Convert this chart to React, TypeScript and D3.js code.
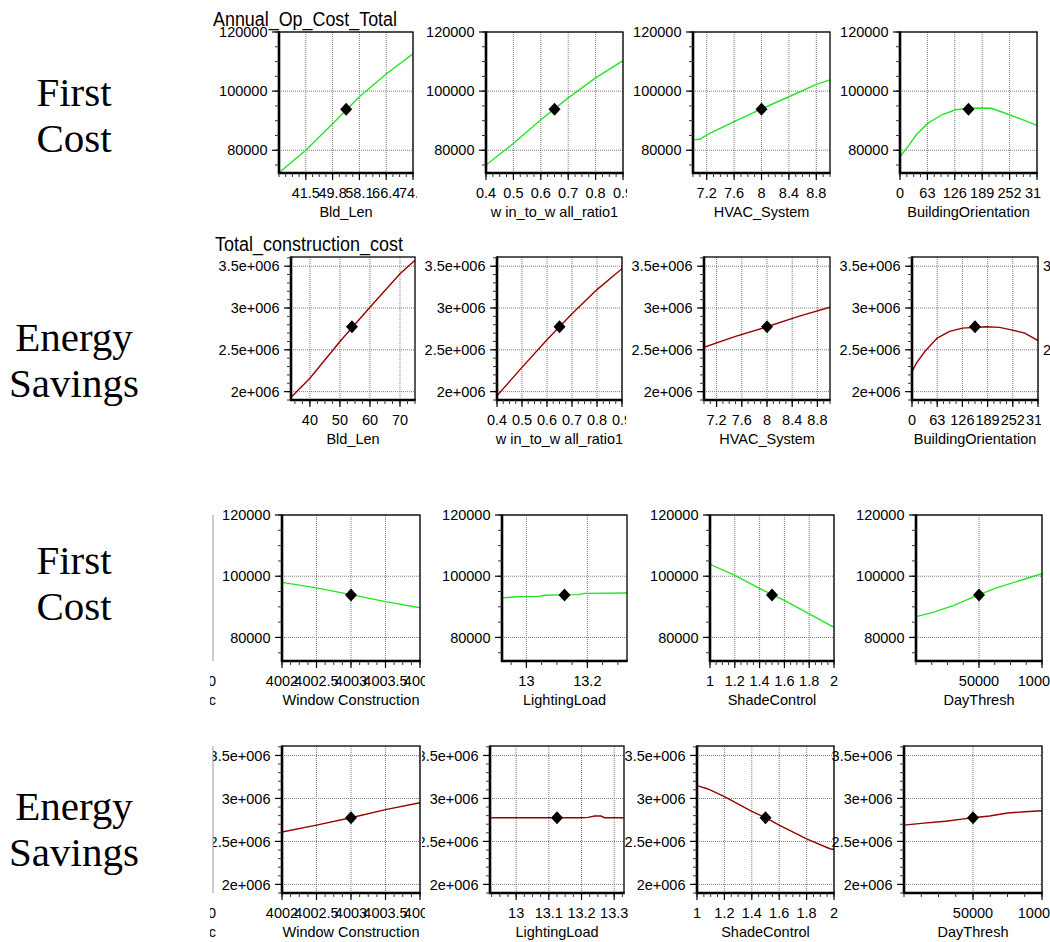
import * as d3 from "d3";
import { useEffect, useRef } from "react";

// y axes
const opDomain: [number, number] = [72300, 120000];
const opTicks = [80000, 100000, 120000];
const opTickLabels = ["80000", "100000", "120000"];
const tcDomain: [number, number] = [1900000, 3610000];
const tcTicks = [2000000, 2500000, 3000000, 3500000];
const tcTickLabels = ["2e+006", "2.5e+006", "3e+006", "3.5e+006"];
const baseOp = 93900;
const baseTc = 2776000;

// Annual_Op_Cost_Total, top block
const bldLenA = [33.2, 41.5, 49.8, 58.1, 66.4, 74.7];
const opBldLen = [72400, 80000, 89000, 98100, 105800, 112600];
const wwrA = [0.4, 0.5, 0.6, 0.7, 0.8, 0.9];
const opWwr = [75000, 82300, 90300, 97700, 104500, 110300];
const hvacA = [7.0, 7.1, 7.2, 7.6, 8.0, 8.4, 8.8, 9.0];
const opHvac = [83500, 83700, 85200, 89700, 94000, 98100, 102300, 103800];
const orientA = [0, 19, 38, 63, 96, 128, 160, 189, 210, 252, 283, 315];
const opOrient = [77800, 81400, 85300, 89000, 92000, 93700, 94200, 94300, 94200, 92000, 90300, 88400];

// Total_construction_cost, top block
const bldLenB = [33.9, 40, 50, 60, 70, 75];
const tcBldLen = [1940000, 2160000, 2600000, 3010000, 3410000, 3570000];
const wwrB = [0.4, 0.5, 0.6, 0.7, 0.8, 0.9];
const tcWwr = [1950000, 2290000, 2620000, 2930000, 3220000, 3470000];
const hvacB = [7.0, 7.5, 8.0, 8.5, 9.0];
const tcHvac = [2530000, 2660000, 2776000, 2900000, 3010000];
const orientB = [0, 11, 32, 63, 94, 126, 186, 219, 251, 282, 315];
const tcOrient = [2240000, 2340000, 2480000, 2640000, 2720000, 2760000, 2776000, 2768000, 2736000, 2700000, 2610000];

// Annual_Op_Cost_Total, bottom block
const winA = [4002, 4002.5, 4003, 4003.5, 4004];
const opWin = [98000, 96200, 94000, 91700, 89700];
const lightA = [12.92, 12.97, 13.04, 13.06, 13.12, 13.17, 13.19, 13.33];
const opLight = [92900, 93300, 93400, 93800, 93900, 94000, 94400, 94500];
const shadeA = [1, 1.2, 1.4, 1.5, 1.6, 1.8, 2];
const opShade = [103900, 100300, 96000, 94000, 92100, 87700, 83300];
const dayA = [0, 13500, 29500, 50000, 64000, 82500, 100000];
const opDay = [86800, 88200, 90400, 94000, 96200, 98600, 100800];

// Total_construction_cost, bottom block
const winB = [4002, 4002.5, 4003, 4003.5, 4004];
const tcWin = [2610000, 2690000, 2776000, 2870000, 2950000];
const lightB = [12.92, 13.0, 13.1, 13.2, 13.22, 13.24, 13.26, 13.27, 13.33];
const tcLight = [2776000, 2776000, 2776000, 2776000, 2780000, 2795000, 2795000, 2776000, 2776000];
const shadeB = [1, 1.08, 1.2, 1.4, 1.5, 1.6, 1.8, 1.97, 2];
const tcShade = [3150000, 3110000, 3020000, 2850000, 2776000, 2690000, 2530000, 2415000, 2405000];
const dayB = [0, 12500, 30000, 42000, 50000, 62000, 75000, 87500, 100000];
const tcDay = [2690000, 2710000, 2735000, 2760000, 2776000, 2795000, 2830000, 2845000, 2857000];

// x tick values
const bldLenTicksA = [41.5, 49.8, 58.1, 66.4, 74.7];
const bldLenTicksB = [40, 50, 60, 70];
const wwrTicks = [0.4, 0.5, 0.6, 0.7, 0.8, 0.9];
const hvacTicks = [7.2, 7.6, 8, 8.4, 8.8];
const orientTicks = [0, 63, 126, 189, 252, 315];
const winTicks = [4002, 4002.5, 4003, 4003.5, 4004];
const lightTicksA = [13, 13.2];
const lightTicksB = [13, 13.1, 13.2, 13.3];
const shadeTicks = [1, 1.2, 1.4, 1.6, 1.8, 2];
const dayTicks = [50000, 100000];

type Panel = {
  box: [number, number, number, number];
  clip: [number, number];
  xDomain: [number, number];
  xTicks: number[];
  xMinor: number;
  xs: number[];
  ys: number[];
  baseX: number;
  label: string;
  kind: "op" | "tc";
};

const panels: Panel[] = [
  { box: [279, 32, 134, 141], clip: [205, 417], xDomain: [33.2, 74.7], xTicks: bldLenTicksA, xMinor: 2.075, xs: bldLenA, ys: opBldLen, baseX: 54, label: "Bld_Len", kind: "op" },
  { box: [486, 32, 137, 141], clip: [420, 627], xDomain: [0.4, 0.9], xTicks: wwrTicks, xMinor: 0.025, xs: wwrA, ys: opWwr, baseX: 0.65, label: "w in_to_w all_ratio1", kind: "op" },
  { box: [693, 32, 137, 141], clip: [630, 834], xDomain: [7, 9], xTicks: hvacTicks, xMinor: 0.1, xs: hvacA, ys: opHvac, baseX: 8, label: "HVAC_System", kind: "op" },
  { box: [900, 32, 137, 141], clip: [838, 1041], xDomain: [0, 315], xTicks: orientTicks, xMinor: 15.75, xs: orientA, ys: opOrient, baseX: 157.5, label: "BuildingOrientation", kind: "op" },

  { box: [291, 257, 124, 143], clip: [205, 419], xDomain: [33.7, 75], xTicks: bldLenTicksB, xMinor: 2.5, xs: bldLenB, ys: tcBldLen, baseX: 54, label: "Bld_Len", kind: "tc" },
  { box: [497, 257, 125, 143], clip: [421, 626], xDomain: [0.4, 0.9], xTicks: wwrTicks, xMinor: 0.025, xs: wwrB, ys: tcWwr, baseX: 0.65, label: "w in_to_w all_ratio1", kind: "tc" },
  { box: [704, 257, 126, 143], clip: [628, 834], xDomain: [7, 9], xTicks: hvacTicks, xMinor: 0.1, xs: hvacB, ys: tcHvac, baseX: 8, label: "HVAC_System", kind: "tc" },
  { box: [912, 257, 126, 143], clip: [836, 1041], xDomain: [0, 315], xTicks: orientTicks, xMinor: 15.75, xs: orientB, ys: tcOrient, baseX: 157.5, label: "BuildingOrientation", kind: "tc" },

  { box: [282, 515, 138, 146], clip: [214, 425], xDomain: [4002, 4004], xTicks: winTicks, xMinor: 0.125, xs: winA, ys: opWin, baseX: 4003, label: "Window Construction", kind: "op" },
  { box: [502, 515, 125, 146], clip: [427, 631], xDomain: [12.92, 13.33], xTicks: lightTicksA, xMinor: 0.05, xs: lightA, ys: opLight, baseX: 13.125, label: "LightingLoad", kind: "op" },
  { box: [710, 515, 124, 146], clip: [633, 838], xDomain: [1, 2], xTicks: shadeTicks, xMinor: 0.05, xs: shadeA, ys: opShade, baseX: 1.5, label: "ShadeControl", kind: "op" },
  { box: [916, 515, 126, 146], clip: [840, 1050], xDomain: [0, 100000], xTicks: dayTicks, xMinor: 12500, xs: dayA, ys: opDay, baseX: 50000, label: "DayThresh", kind: "op" },

  { box: [282, 746, 138, 147], clip: [213, 425], xDomain: [4002, 4004], xTicks: winTicks, xMinor: 0.125, xs: winB, ys: tcWin, baseX: 4003, label: "Window Construction", kind: "tc" },
  { box: [490, 746, 134, 147], clip: [422, 632], xDomain: [12.92, 13.33], xTicks: lightTicksB, xMinor: 0.025, xs: lightB, ys: tcLight, baseX: 13.125, label: "LightingLoad", kind: "tc" },
  { box: [697, 746, 137, 147], clip: [624, 838], xDomain: [1, 2], xTicks: shadeTicks, xMinor: 0.05, xs: shadeB, ys: tcShade, baseX: 1.5, label: "ShadeControl", kind: "tc" },
  { box: [904, 746, 138, 147], clip: [831, 1050], xDomain: [0, 100000], xTicks: dayTicks, xMinor: 12500, xs: dayB, ys: tcDay, baseX: 50000, label: "DayThresh", kind: "tc" },
];

const rowLabels = [
  { lines: ["First", "Cost"], y: 106 },
  { lines: ["Energy", "Savings"], y: 351 },
  { lines: ["First", "Cost"], y: 574 },
  { lines: ["Energy", "Savings"], y: 820 },
];

const SANS = "'Liberation Sans', Arial, sans-serif";
const SERIF = "'Liberation Serif', 'Times New Roman', serif";
const GREEN = "#22e622";
const RED = "#990000";

function minorValues(major: number[], step: number, domain: [number, number]) {
  const eps = step * 0.01;
  const start = major[0];
  const kMin = Math.ceil((domain[0] - start - eps) / step);
  const kMax = Math.floor((domain[1] - start + eps) / step);
  return d3.range(kMin, kMax + 1).map((k) => start + k * step);
}

export default function App() {
  const ref = useRef<SVGSVGElement>(null);

  useEffect(() => {
    if (!ref.current) return;
    const svg = d3.select(ref.current);
    svg.selectAll("*").remove();
    const W = 1050;
    const H = 942;
    svg.attr("width", W).attr("height", H);
    svg.append("rect").attr("width", W).attr("height", H).attr("fill", "#fff");
    const defs = svg.append("defs");

    panels.forEach((p, i) => {
      const [bx, by, bw, bh] = p.box;
      const x = d3.scaleLinear().domain(p.xDomain).range([bx, bx + bw]);
      const yDom = p.kind === "op" ? opDomain : tcDomain;
      const y = d3.scaleLinear().domain(yDom).range([by + bh, by]);
      const yTicks = p.kind === "op" ? opTicks : tcTicks;
      const yLabels = p.kind === "op" ? opTickLabels : tcTickLabels;
      const yMinor = minorValues(yTicks, p.kind === "op" ? 5000 : 100000, yDom);
      const xMinor = minorValues(p.xTicks, p.xMinor, p.xDomain);

      defs
        .append("clipPath")
        .attr("id", `pc${i}`)
        .append("rect")
        .attr("x", p.clip[0])
        .attr("y", by - 30)
        .attr("width", p.clip[1] - p.clip[0])
        .attr("height", bh + 90);
      defs
        .append("clipPath")
        .attr("id", `bc${i}`)
        .append("rect")
        .attr("x", bx)
        .attr("y", by)
        .attr("width", bw)
        .attr("height", bh);

      const g = svg.append("g").attr("clip-path", `url(#pc${i})`);

      // grid
      g.selectAll("line.hg")
        .data(yTicks)
        .join("line")
        .attr("x1", bx)
        .attr("x2", bx + bw)
        .attr("y1", (d) => y(d))
        .attr("y2", (d) => y(d))
        .attr("stroke", "#7a7a7a")
        .attr("stroke-dasharray", "1,1");
      g.selectAll("line.vg")
        .data(p.xTicks)
        .join("line")
        .attr("x1", (d) => x(d))
        .attr("x2", (d) => x(d))
        .attr("y1", by)
        .attr("y2", by + bh)
        .attr("stroke", "#7a7a7a")
        .attr("stroke-dasharray", "1,1");

      // curve
      const line = d3
        .line<number>()
        .x((_, k) => x(p.xs[k]))
        .y((d) => y(d));
      g.append("path")
        .attr("d", line(p.ys))
        .attr("fill", "none")
        .attr("stroke", p.kind === "op" ? GREEN : RED)
        .attr("stroke-width", 1.4)
        .attr("clip-path", `url(#bc${i})`);

      // frame
      g.append("rect")
        .attr("x", bx)
        .attr("y", by)
        .attr("width", bw)
        .attr("height", bh)
        .attr("fill", "none")
        .attr("stroke", "#000")
        .attr("stroke-width", 1.3);
      g.append("path")
        .attr("d", `M${bx},${by - 0.6}V${by + bh}H${bx + bw + 0.6}`)
        .attr("fill", "none")
        .attr("stroke", "#000")
        .attr("stroke-width", 2.6);

      // y ticks
      g.selectAll("line.ym")
        .data(yMinor)
        .join("line")
        .attr("x1", bx - 4)
        .attr("x2", bx)
        .attr("y1", (d) => y(d))
        .attr("y2", (d) => y(d))
        .attr("stroke", "#333");
      g.selectAll("line.yM")
        .data(yTicks)
        .join("line")
        .attr("x1", bx - 7)
        .attr("x2", bx)
        .attr("y1", (d) => y(d))
        .attr("y2", (d) => y(d))
        .attr("stroke", "#000")
        .attr("stroke-width", 1.2);
      g.selectAll("text.yl")
        .data(yTicks)
        .join("text")
        .attr("x", bx - 11.5)
        .attr("y", (d) => y(d))
        .attr("dy", "0.36em")
        .attr("text-anchor", "end")
        .attr("font-family", SANS)
        .attr("font-size", 14.5)
        .text((_, k) => yLabels[k]);

      // x ticks
      g.selectAll("line.xm")
        .data(xMinor)
        .join("line")
        .attr("x1", (d) => x(d))
        .attr("x2", (d) => x(d))
        .attr("y1", by + bh)
        .attr("y2", by + bh + 4)
        .attr("stroke", "#333");
      g.selectAll("line.xM")
        .data(p.xTicks)
        .join("line")
        .attr("x1", (d) => x(d))
        .attr("x2", (d) => x(d))
        .attr("y1", by + bh)
        .attr("y2", by + bh + 7)
        .attr("stroke", "#000")
        .attr("stroke-width", 1.2);
      g.selectAll("text.xl")
        .data(p.xTicks)
        .join("text")
        .attr("x", (d) => x(d))
        .attr("y", by + bh + 25)
        .attr("text-anchor", "middle")
        .attr("font-family", SANS)
        .attr("font-size", 14.5)
        .text((d) => String(d));

      g.append("text")
        .attr("x", bx + bw / 2)
        .attr("y", by + bh + 44)
        .attr("text-anchor", "middle")
        .attr("font-family", SANS)
        .attr("font-size", 14.5)
        .text(p.label);

      // base point
      const cx = x(p.baseX);
      const cy = y(p.kind === "op" ? baseOp : baseTc);
      g.append("path")
        .attr("d", `M${cx},${cy - 6.5}L${cx + 6},${cy}L${cx},${cy + 6.5}L${cx - 6},${cy}Z`)
        .attr("fill", "#000");
    });

    // response titles
    svg
      .append("text")
      .attr("x", 213)
      .attr("y", 26)
      .attr("font-family", SANS)
      .attr("font-size", 20)
      .attr("textLength", 184)
      .attr("lengthAdjust", "spacingAndGlyphs")
      .text("Annual_Op_Cost_Total");
    svg
      .append("text")
      .attr("x", 215)
      .attr("y", 251)
      .attr("font-family", SANS)
      .attr("font-size", 20)
      .attr("textLength", 188)
      .attr("lengthAdjust", "spacingAndGlyphs")
      .text("Total_construction_cost");

    // fragments of neighbouring panels cut by the page edge
    defs.append("clipPath").attr("id", "stub").append("rect").attr("x", 210).attr("y", 500).attr("width", 6).attr("height", 442);
    const stub = svg.append("g").attr("clip-path", "url(#stub)");
    [
      [515, 661],
      [746, 893],
    ].forEach(([t, b]) => {
      stub.append("line").attr("x1", 213).attr("x2", 213).attr("y1", t).attr("y2", b).attr("stroke", "#999");
      stub.append("text").attr("x", 216).attr("y", b + 25).attr("text-anchor", "end").attr("font-family", SANS).attr("font-size", 14.5).text("0");
      stub.append("text").attr("x", 216).attr("y", b + 44).attr("text-anchor", "end").attr("font-family", SANS).attr("font-size", 14.5).text("ic");
    });
    ["3.5e+006", "2.5e+006"].forEach((s, k) => {
      svg
        .append("text")
        .attr("x", 1043)
        .attr("y", d3.scaleLinear().domain(tcDomain).range([400, 257])(tcTicks[k === 0 ? 3 : 1]))
        .attr("dy", "0.36em")
        .attr("font-family", SANS)
        .attr("font-size", 14.5)
        .text(s);
    });

    // row captions
    rowLabels.forEach((r) => {
      r.lines.forEach((s, k) => {
        svg
          .append("text")
          .attr("x", 74)
          .attr("y", r.y + k * 46)
          .attr("text-anchor", "middle")
          .attr("font-family", SERIF)
          .attr("font-size", 41)
          .text(s);
      });
    });
  }, []);

  return (
    <div style={{ position: "absolute", left: 0, top: 0 }}>
      <svg ref={ref} style={{ display: "block" }} />
    </div>
  );
}
